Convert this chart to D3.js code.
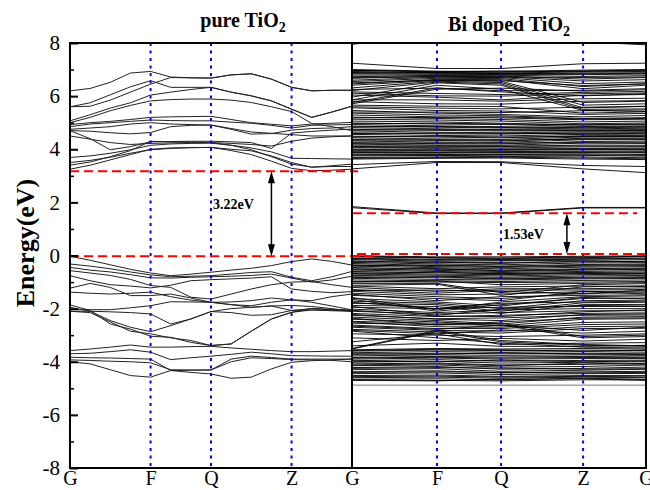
<!DOCTYPE html>
<html><head><meta charset="utf-8">
<script src="https://cdn.jsdelivr.net/npm/d3@7"></script>
<style>body{margin:0;background:#fff}svg{display:block}</style>
</head><body>
<svg id="chart" width="650" height="490"></svg>
<script>
// ---------------- data ----------------
const yTicks = [-8, -6, -4, -2, 0, 2, 4, 6, 8];
const yMinorTicks = [-7, -5, -3, -1, 1, 3, 5, 7];
const kLabels = ["G", "F", "Q", "Z", "G"];
// pure TiO2: 15 k-samples along G-F-Q-Z-G
const pureK = [0,1,2,3,4,5,6,7,8,9,10,11,12,13,14];
const pureKTicks = [0, 4, 7, 11, 14];
// Bi doped: high-symmetry points as fraction of path
const dopedK = [0, 0.289, 0.507, 0.786, 1];

const pureConduction = [
 [6.20,6.29,6.52,6.87,6.93,6.72,6.69,6.68,6.80,6.84,6.64,6.33,6.20,6.22,6.22],
 [5.60,5.75,6.05,6.35,6.58,6.33,6.33,6.33,6.15,6.01,5.82,5.51,5.20,5.40,5.62],
 [5.60,5.62,5.85,6.15,6.45,6.70,6.69,6.68,6.80,6.84,6.64,6.33,6.20,6.22,6.22],
 [5.07,5.30,5.55,5.75,6.04,6.15,6.25,6.33,6.15,6.01,5.82,5.51,5.20,5.40,5.62],
 [5.00,5.20,5.45,5.65,5.82,5.87,5.89,5.89,5.85,5.76,5.60,5.42,4.97,4.85,4.70],
 [4.93,5.00,5.05,5.12,5.20,5.22,5.23,5.24,5.12,5.00,4.94,4.88,4.95,4.98,5.01],
 [4.85,4.95,5.00,5.05,5.10,5.08,5.07,5.07,5.02,4.98,4.90,4.80,4.90,4.92,4.93],
 [4.75,4.80,4.85,4.95,5.00,4.95,4.93,4.91,4.75,4.57,4.59,4.72,4.78,4.80,4.85],
 [4.70,4.68,4.62,4.58,4.63,4.85,4.90,4.91,4.78,4.65,4.60,4.55,4.50,4.50,4.50],
 [4.70,4.40,3.98,4.10,4.28,4.29,4.30,4.30,4.28,4.25,4.03,4.61,4.67,4.72,4.76],
 [4.50,4.38,4.25,4.18,4.22,4.24,4.25,4.25,4.22,4.18,4.12,4.30,4.42,4.47,4.50],
 [3.69,3.75,3.85,3.98,4.15,4.20,4.22,4.23,4.15,4.05,3.90,3.66,3.65,3.64,3.63],
 [3.50,3.58,3.70,3.85,3.98,4.03,4.06,4.07,4.00,3.94,3.75,3.50,3.32,3.38,3.44],
 [3.40,3.52,3.72,3.95,4.30,4.28,4.27,4.25,4.15,3.98,3.72,3.44,3.33,3.35,3.35],
 [3.25,3.40,3.60,3.80,4.00,4.05,4.06,4.07,3.95,3.80,3.55,3.28,3.19,3.21,3.25]
];
const pureValence = [
 [-0.03,-0.18,-0.35,-0.52,-0.66,-0.76,-0.70,-0.63,-0.55,-0.48,-0.38,-0.23,-0.13,-0.22,-0.36],
 [-0.32,-0.40,-0.50,-0.62,-0.73,-0.80,-0.78,-0.76,-0.70,-0.64,-0.61,-0.82,-0.95,-0.80,-0.60],
 [-0.45,-0.55,-0.62,-0.72,-0.84,-0.85,-0.82,-0.80,-0.78,-0.75,-0.70,-0.85,-1.00,-0.92,-0.78],
 [-0.57,-0.66,-0.75,-0.90,-1.13,-1.20,-1.57,-1.64,-1.45,-1.26,-1.10,-1.00,-0.98,-1.10,-1.20],
 [-0.76,-0.95,-1.10,-1.15,-1.22,-1.12,-0.95,-0.91,-0.88,-0.85,-0.80,-1.26,-1.35,-1.40,-1.36],
 [-1.23,-1.05,-1.20,-1.51,-1.51,-1.45,-1.60,-1.76,-1.75,-1.70,-1.60,-1.67,-1.70,-1.55,-1.45],
 [-1.38,-1.42,-1.45,-1.42,-1.38,-1.55,-1.68,-1.76,-1.85,-1.95,-1.90,-2.07,-2.05,-2.05,-2.05],
 [-1.86,-2.07,-2.58,-2.77,-3.04,-3.08,-3.27,-3.39,-3.33,-2.85,-2.39,-2.14,-1.99,-2.03,-2.07],
 [-1.95,-2.10,-2.45,-2.70,-2.87,-2.64,-2.39,-2.11,-2.15,-2.25,-2.23,-2.07,-2.00,-2.05,-2.10],
 [-2.04,-2.04,-2.04,-1.97,-1.89,-1.74,-1.75,-1.76,-1.85,-1.89,-1.76,-1.67,-1.76,-1.90,-2.05],
 [-2.10,-2.15,-2.50,-2.85,-2.95,-3.10,-3.20,-3.39,-3.33,-2.85,-2.39,-2.14,-2.05,-2.08,-2.10],
 [-2.10,-2.10,-2.12,-2.15,-2.20,-2.58,-2.39,-2.11,-2.00,-1.95,-1.90,-1.88,-1.92,-2.00,-2.10],
 [-3.58,-3.52,-3.45,-3.37,-3.45,-3.45,-3.43,-3.42,-3.48,-3.53,-3.58,-3.62,-3.62,-3.60,-3.58],
 [-3.70,-3.68,-3.62,-3.55,-3.64,-3.92,-3.85,-3.79,-3.72,-3.64,-3.70,-3.77,-3.78,-3.79,-3.79],
 [-3.83,-3.85,-3.86,-3.88,-3.90,-4.33,-4.32,-4.31,-3.90,-3.79,-3.84,-3.90,-3.90,-3.90,-3.90],
 [-3.93,-3.95,-3.98,-4.00,-4.04,-4.30,-4.31,-4.31,-4.00,-3.85,-3.88,-3.92,-3.93,-3.95,-4.00],
 [-4.00,-4.08,-4.30,-4.52,-4.58,-4.33,-4.40,-4.46,-4.62,-4.58,-4.27,-4.02,-3.96,-3.93,-3.90]
];

// Bi doped TiO2: values at G, F, Q, Z, G
const dopedConduction = [
 [7.95,8.30,8.35,8.05,7.93],[7.24,7.04,7.04,7.22,7.24],
 [7.00,6.94,6.92,6.98,7.00],[6.97,6.91,6.90,6.95,6.96],[6.93,6.88,6.87,6.91,6.93],
 [6.89,6.86,6.84,6.87,6.88],[6.84,6.83,6.81,6.81,6.83],[6.79,6.80,6.79,6.74,6.77],
 [6.73,6.78,6.76,6.64,6.70],[6.67,6.75,6.73,6.57,6.62],[6.60,6.71,6.70,6.47,6.53],
 [6.55,6.67,6.66,6.36,6.47],[6.46,6.63,6.62,6.28,6.41],[6.41,6.59,6.56,5.76,5.81],
 [6.31,6.56,6.51,5.66,5.71],[6.21,6.53,6.46,5.56,5.61],[5.96,6.50,6.41,5.50,5.52],
 [5.86,6.41,6.26,5.46,5.42],[5.76,6.31,6.16,6.01,6.09],[5.71,6.26,6.30,6.19,6.24],
 [6.16,6.10,6.06,6.14,6.18],[6.11,6.01,6.00,6.09,6.12],[6.04,5.96,5.86,6.03,6.06],
 [5.86,5.86,5.81,5.90,5.92],[5.79,5.71,5.70,5.81,5.83],[5.66,5.62,5.61,5.36,5.41],
 [5.56,5.46,5.44,5.31,5.35],[5.46,5.36,5.31,5.22,5.27],[5.36,5.29,5.26,5.16,5.19],
 [5.29,5.22,5.18,5.11,5.13],[5.21,5.16,5.12,5.03,5.06],[5.13,5.10,5.06,4.96,4.99],
 [5.06,5.03,4.98,4.91,4.93],[4.99,4.95,4.93,4.86,4.88],[4.93,4.88,4.85,4.81,4.83],
 [4.87,4.83,4.80,4.77,4.79],[4.81,4.77,4.74,4.73,4.74],[4.75,4.71,4.69,4.69,4.70],
 [4.69,4.64,4.62,4.65,4.66],[4.62,4.58,4.57,4.61,4.62],[4.56,4.52,4.50,4.56,4.57],
 [4.49,4.46,4.43,4.51,4.52],[4.43,4.39,4.37,4.46,4.46],[4.37,4.33,4.31,4.41,4.41],
 [4.31,4.27,4.26,4.36,4.35],[4.25,4.21,4.20,4.29,4.28],[4.19,4.16,4.15,4.23,4.22],
 [4.13,4.11,4.10,4.16,4.15],[4.07,4.06,4.05,4.09,4.08],[4.01,4.00,4.01,4.03,4.02],
 [3.96,3.95,3.96,3.98,3.97],[3.91,3.90,3.91,3.93,3.92],[3.86,3.85,3.87,3.88,3.86],
 [3.81,3.80,3.82,3.83,3.80],[3.75,3.76,3.78,3.77,3.74],[3.69,3.71,3.73,3.71,3.68],
 [3.63,3.66,3.67,3.63,3.61],[3.42,3.54,3.53,3.39,3.35],[3.26,3.50,3.50,3.26,3.12],
 [6.98,6.92,6.95,6.93,6.99],[6.86,6.89,6.85,6.84,6.86],[6.70,6.73,6.72,6.70,6.72],
 [6.50,6.60,6.58,6.40,6.46],[6.25,6.30,6.20,6.22,6.28],[5.60,5.55,5.52,5.58,5.62],
 [5.40,5.40,5.38,5.45,5.48],[5.18,5.20,5.22,5.14,5.16],[4.96,4.98,4.95,4.92,4.95],
 [4.84,4.86,4.82,4.84,4.85],[4.72,4.74,4.72,4.70,4.72],[4.59,4.61,4.60,4.58,4.60],
 [4.46,4.49,4.46,4.48,4.48],[4.34,4.36,4.34,4.38,4.37],[4.22,4.24,4.23,4.25,4.24],
 [4.10,4.13,4.12,4.12,4.11],[3.98,4.02,3.99,4.00,3.99],[3.88,3.88,3.89,3.90,3.88],
 [3.78,3.78,3.80,3.79,3.77],[3.66,3.68,3.70,3.67,3.64]
];
const dopedImpurity = [
 [1.84,1.60,1.60,1.81,1.81],[1.80,1.58,1.58,1.79,1.79]
];
const dopedValence = [
 [-0.01,-0.05,-0.05,-0.03,-0.01],[-0.05,-0.10,-0.12,-0.08,-0.05],[-0.10,-0.15,-0.18,-0.14,-0.10],
 [-0.15,-0.22,-0.20,-0.18,-0.16],[-0.20,-0.28,-0.26,-0.24,-0.22],[-0.26,-0.32,-0.35,-0.28,-0.27],
 [-0.30,-0.38,-0.40,-0.34,-0.32],[-0.35,-0.42,-0.45,-0.40,-0.38],[-0.40,-0.46,-0.50,-0.44,-0.42],
 [-0.45,-0.52,-0.55,-0.50,-0.47],[-0.50,-0.56,-0.60,-0.55,-0.52],[-0.55,-0.60,-0.64,-0.60,-0.57],
 [-0.60,-0.65,-0.68,-0.64,-0.62],[-0.65,-0.70,-0.72,-0.68,-0.66],[-0.70,-0.74,-0.77,-0.72,-0.70],
 [-0.75,-0.78,-0.82,-0.77,-0.75],[-0.80,-0.84,-0.86,-0.82,-0.80],[-0.86,-0.90,-0.92,-0.88,-0.86],
 [-0.92,-0.95,-0.98,-0.94,-0.92],[-0.98,-1.00,-1.02,-1.00,-0.98],
 [-1.05,-1.05,-1.40,-1.10,-1.06],[-1.12,-1.08,-1.50,-1.18,-1.14],[-1.20,-1.35,-1.25,-1.25,-1.22],
 [-1.28,-1.42,-1.30,-1.30,-1.28],[-1.35,-1.48,-1.45,-1.36,-1.34],[-1.42,-1.55,-1.62,-1.42,-1.40],
 [-1.50,-1.62,-1.70,-1.35,-1.45],[-1.58,-2.05,-1.75,-1.55,-1.52],[-1.65,-2.10,-1.85,-1.62,-1.60],
 [-1.72,-1.80,-2.00,-1.70,-1.68],[-1.80,-1.85,-2.10,-1.78,-1.76],[-1.88,-1.92,-2.18,-1.85,-1.84],
 [-1.95,-2.00,-1.95,-1.92,-1.92],[-2.02,-2.15,-2.05,-2.00,-2.00],[-2.10,-2.20,-2.15,-2.08,-2.08],
 [-2.18,-2.30,-2.25,-2.18,-2.16],[-2.25,-2.38,-2.35,-2.25,-2.24],[-2.32,-2.45,-2.58,-2.32,-2.30],
 [-2.40,-2.50,-2.65,-2.40,-2.38],[-2.48,-2.55,-2.55,-3.05,-3.00],[-2.55,-2.60,-2.62,-3.10,-3.05],
 [-2.62,-2.75,-2.75,-2.60,-2.58],[-2.70,-2.82,-2.85,-2.68,-2.66],[-2.78,-2.88,-2.92,-2.75,-2.74],
 [-3.50,-2.82,-3.20,-3.35,-3.40],[-3.52,-2.86,-3.25,-3.38,-3.42],[-2.85,-3.10,-3.30,-3.45,-3.48],
 [-3.55,-3.50,-3.52,-3.50,-3.52],[-3.60,-3.56,-3.58,-3.56,-3.58],[-3.66,-3.62,-3.64,-3.62,-3.64],
 [-3.72,-3.68,-3.70,-3.68,-3.70],[-3.78,-3.74,-3.76,-3.74,-3.76],[-3.84,-3.80,-3.82,-3.80,-3.82],
 [-3.90,-3.86,-3.90,-3.88,-3.88],[-3.96,-3.92,-3.98,-3.95,-3.94],[-4.02,-3.98,-4.05,-4.02,-4.00],
 [-4.08,-4.05,-4.12,-4.10,-4.06],[-4.15,-4.12,-4.20,-4.18,-4.12],[-4.22,-4.18,-4.28,-4.25,-4.20],
 [-4.30,-4.26,-4.36,-4.32,-4.28],[-4.38,-4.34,-4.42,-4.38,-4.36],[-4.45,-4.42,-4.48,-4.45,-4.44],
 [-4.52,-4.50,-4.55,-4.52,-4.52],[-4.60,-4.58,-4.62,-4.58,-4.60],[-4.66,-4.64,-4.68,-4.62,-4.66],
 [-4.70,-4.72,-4.66,-4.64,-4.70],
 [-0.03,-0.08,-0.09,-0.06,-0.03],[-0.12,-0.18,-0.15,-0.12,-0.13],[-0.23,-0.25,-0.30,-0.21,-0.24],
 [-0.38,-0.36,-0.42,-0.37,-0.35],[-0.52,-0.49,-0.58,-0.52,-0.50],[-0.68,-0.62,-0.70,-0.66,-0.68],
 [-0.83,-0.80,-0.88,-0.85,-0.83],[-1.00,-0.96,-1.10,-1.05,-1.02],[-1.15,-1.25,-1.18,-1.15,-1.17],
 [-1.32,-1.30,-1.35,-1.45,-1.30],[-1.46,-1.70,-1.55,-1.50,-1.48],[-1.62,-1.75,-1.90,-1.58,-1.63],
 [-1.76,-2.00,-1.80,-1.75,-1.72],[-1.92,-2.25,-2.02,-1.88,-1.90],[-2.06,-2.28,-2.30,-2.12,-2.05],
 [-2.22,-2.40,-2.45,-2.22,-2.20],[-2.36,-2.62,-2.50,-2.36,-2.35],[-2.50,-2.68,-2.70,-2.52,-2.50],
 [-2.66,-2.78,-2.62,-2.82,-2.70],[-2.82,-2.95,-2.80,-2.92,-2.85],[-2.95,-3.00,-3.05,-3.00,-2.95],
 [-3.10,-3.20,-3.12,-3.22,-3.15],[-3.25,-2.95,-3.35,-3.30,-3.28],[-3.40,-3.30,-3.42,-3.42,-3.38],
 [-3.58,-3.53,-3.55,-3.60,-3.56],[-3.70,-3.72,-3.66,-3.71,-3.73],[-3.86,-3.83,-3.86,-3.84,-3.85],
 [-3.98,-4.00,-3.94,-4.00,-3.97],[-4.12,-4.08,-4.15,-4.05,-4.10],[-4.25,-4.22,-4.24,-4.28,-4.26],
 [-4.40,-4.38,-4.40,-4.42,-4.40],[-4.56,-4.54,-4.58,-4.55,-4.57],[-4.68,-4.70,-4.72,-4.68,-4.68]
];
const dopedBottom = [-4.88,-4.88,-4.88,-4.88,-4.88];

const pureCBM = 3.17, pureVBM = -0.03;
const dopedCBM = 1.59, dopedVBM = 0.06;
const gapLabels = ["3.22eV", "1.53eV"];
const titles = ["pure TiO", "Bi doped TiO"];

// ---------------- drawing ----------------
const svg = d3.select("#chart");
const pTop = 43, pBottom = 468, pLeft = 70, pMid = 352, pRight = 646;
const y = d3.scaleLinear().domain([-8, 8]).range([pBottom, pTop]);
const xL = d3.scaleLinear().domain([0, 14]).range([pLeft, pMid]);
const xR = d3.scaleLinear().domain([0, 1]).range([pMid, pRight]);
const serif = "'Liberation Serif','Times New Roman',serif";

svg.append("defs").append("clipPath").attr("id", "plotClip")
  .append("rect").attr("x", pLeft).attr("y", pTop).attr("width", pRight - pLeft).attr("height", pBottom - pTop);

const bands = svg.append("g").attr("clip-path", "url(#plotClip)");
const lineL = d3.line().x((d, i) => xL(pureK[i])).y(d => y(d));
const lineR = d3.line().x((d, i) => xR(dopedK[i])).y(d => y(d));

bands.append("g").selectAll("path").data(pureConduction.concat(pureValence)).join("path")
  .attr("d", lineL).attr("fill", "none").attr("stroke", "#222").attr("stroke-width", 1);

bands.append("g").selectAll("path").data(dopedConduction.concat(dopedValence, dopedImpurity)).join("path")
  .attr("d", lineR).attr("fill", "none").attr("stroke", "#000").attr("stroke-width", 0.9);
bands.append("path").datum(dopedBottom).attr("d", lineR).attr("fill", "none")
  .attr("stroke", "#777").attr("stroke-width", 1);

// blue dotted high-symmetry lines
const vlines = pureKTicks.slice(1, 4).map(k => xL(k)).concat(dopedK.slice(1, 4).map(k => xR(k)));
svg.append("g").selectAll("line").data(vlines).join("line")
  .attr("x1", d => d).attr("x2", d => d).attr("y1", pTop).attr("y2", pBottom)
  .attr("stroke", "#0000ff").attr("stroke-width", 2).attr("stroke-dasharray", "3,4.5");

// red dashed band-edge lines
const redLines = [
  [xL(0), xL(14.3), pureCBM], [xL(0), xL(15.05), pureVBM],
  [xR(0.003), xR(0.97), dopedCBM], [xR(0.017), xR(1.014), dopedVBM]
];
svg.append("g").selectAll("line").data(redLines).join("line")
  .attr("x1", d => d[0]).attr("x2", d => d[1]).attr("y1", d => y(d[2])).attr("y2", d => y(d[2]))
  .attr("stroke", "#ff0000").attr("stroke-width", 2).attr("stroke-dasharray", "9,5");

// frame
svg.append("rect").attr("x", pLeft).attr("y", pTop).attr("width", pRight - pLeft).attr("height", pBottom - pTop)
  .attr("fill", "none").attr("stroke", "#000").attr("stroke-width", 2);
svg.append("line").attr("x1", pMid).attr("x2", pMid).attr("y1", pTop).attr("y2", pBottom)
  .attr("stroke", "#000").attr("stroke-width", 2);

// y axis
const yAxis = svg.append("g").attr("transform", `translate(${pLeft},0)`)
  .call(d3.axisLeft(y).tickValues(yTicks).tickSizeInner(-8).tickSizeOuter(0).tickPadding(10).tickFormat(d3.format("d")));
yAxis.select(".domain").remove();
yAxis.selectAll(".tick line").attr("stroke", "#000").attr("stroke-width", 2);
yAxis.selectAll("text").attr("font-family", serif).attr("font-size", 21).attr("fill", "#000")
  .text(d => d < 0 ? "-" + Math.abs(d) : d);
const yMinor = svg.append("g").attr("transform", `translate(${pLeft},0)`)
  .call(d3.axisLeft(y).tickValues(yMinorTicks).tickSize(-4).tickFormat(""));
yMinor.select(".domain").remove();
yMinor.selectAll(".tick line").attr("stroke", "#000").attr("stroke-width", 1.5);

// x labels
const xAxL = svg.append("g").attr("transform", `translate(0,${pBottom})`)
  .call(d3.axisBottom(xL).tickValues(pureKTicks).tickSize(0).tickPadding(3).tickFormat((d, i) => kLabels[i]));
const xAxR = svg.append("g").attr("transform", `translate(0,${pBottom})`)
  .call(d3.axisBottom(xR).tickValues(dopedK.slice(1)).tickSize(0).tickPadding(3).tickFormat((d, i) => kLabels[i + 1]));
[xAxL, xAxR].forEach(a => {
  a.select(".domain").remove();
  a.selectAll("text").attr("font-family", serif).attr("font-size", 20).attr("fill", "#000");
});

// y label
svg.append("text").attr("transform", "translate(34,243) rotate(-90)")
  .attr("text-anchor", "middle").attr("font-family", serif).attr("font-weight", "bold")
  .attr("font-size", 26).text("Energy(eV)");

// titles
[[243, 27, titles[0]], [509, 31, titles[1]]].forEach(([cx, by, t]) => {
  const tx = svg.append("text").attr("x", cx).attr("y", by).attr("text-anchor", "middle")
    .attr("font-family", serif).attr("font-weight", "bold").attr("font-size", 20);
  tx.append("tspan").text(t);
  tx.append("tspan").attr("font-size", 14).attr("dy", 5).text("2");
});

// gap arrows
function arrow(x, e1, e2) {
  const y1 = y(e1), y2 = y(e2), hl = 12, hw = 3.5;
  svg.append("line").attr("x1", x).attr("x2", x).attr("y1", y1 + hl - 1).attr("y2", y2 - hl + 1)
    .attr("stroke", "#000").attr("stroke-width", 1.5);
  svg.append("path").attr("d", `M${x},${y1}L${x - hw},${y1 + hl}L${x + hw},${y1 + hl}Z`).attr("fill", "#000");
  svg.append("path").attr("d", `M${x},${y2}L${x - hw},${y2 - hl}L${x + hw},${y2 - hl}Z`).attr("fill", "#000");
}
arrow(xL(10), pureCBM, pureVBM);
arrow(xR(0.731), dopedCBM, dopedVBM);

svg.append("text").attr("x", xL(7.1)).attr("y", y(1.75)).attr("font-family", serif)
  .attr("font-weight", "bold").attr("font-size", 14).text(gapLabels[0]);
svg.append("text").attr("x", xR(0.514)).attr("y", y(0.62)).attr("font-family", serif)
  .attr("font-weight", "bold").attr("font-size", 14).text(gapLabels[1]);
</script>
</body></html>
